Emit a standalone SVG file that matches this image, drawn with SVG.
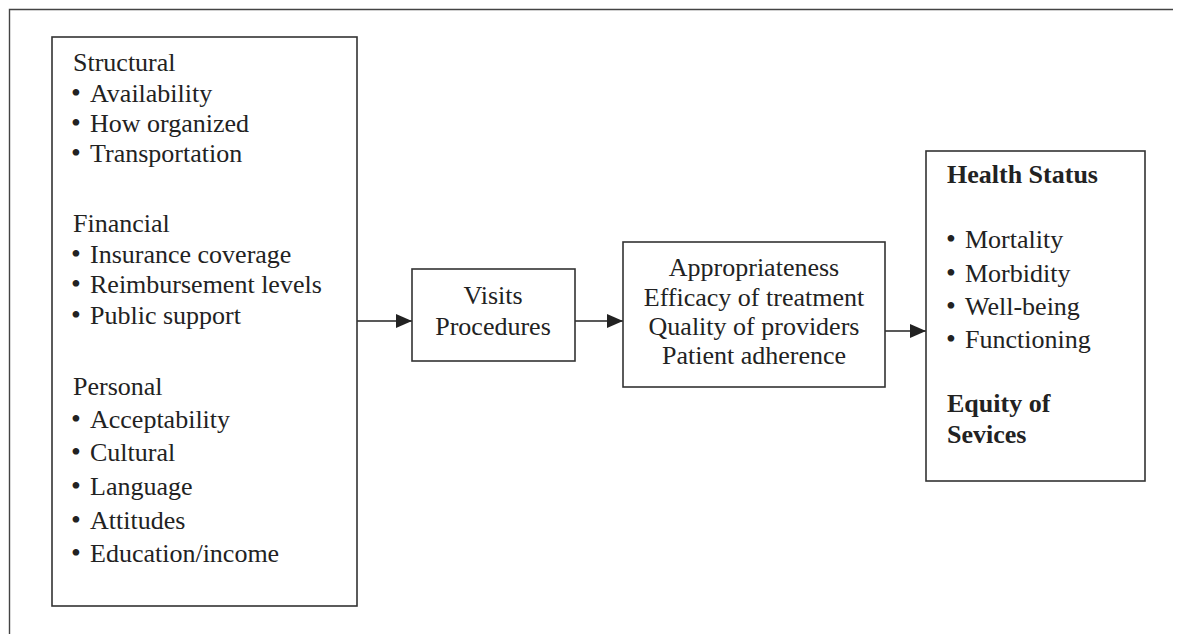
<svg xmlns="http://www.w3.org/2000/svg" width="1182" height="634" viewBox="0 0 1182 634">
<defs>
<style>
.box{fill:#fff;stroke:#333;stroke-width:1.6}
.frame{fill:none;stroke:#444;stroke-width:1.4}
.t{font-family:"Liberation Serif","Times New Roman",serif;font-size:26px;fill:#222}
.bu{font-size:28px}
.c{text-anchor:middle}
.b{font-weight:bold}
.conn{stroke:#222;stroke-width:1.5;fill:none}
</style>
<marker id="ah" markerWidth="16" markerHeight="14" refX="16" refY="7" orient="auto" markerUnits="userSpaceOnUse">
<path d="M0,0 L16,7 L0,14 Z" fill="#222"/>
</marker>
</defs>
<rect width="1182" height="634" fill="#fff"/>
<path class="frame" d="M9.5,634 L9.5,9.5 L1173,9.5"/>
<g id="connectors">
<line class="conn" x1="357" y1="321" x2="412" y2="321" marker-end="url(#ah)"/>
<line class="conn" x1="575" y1="321" x2="623" y2="321" marker-end="url(#ah)"/>
<line class="conn" x1="885" y1="331" x2="926" y2="331" marker-end="url(#ah)"/>
</g>
<g id="access">
<rect class="box" x="52" y="37" width="305" height="569"/>
<text class="t" x="73" y="71">Structural</text>
<text class="t" y="102"><tspan class="bu" x="71">•</tspan><tspan x="90">Availability</tspan></text>
<text class="t" y="132"><tspan class="bu" x="71">•</tspan><tspan x="90">How organized</tspan></text>
<text class="t" y="162"><tspan class="bu" x="71">•</tspan><tspan x="90">Transportation</tspan></text>
<text class="t" x="73" y="232">Financial</text>
<text class="t" y="263"><tspan class="bu" x="71">•</tspan><tspan x="90">Insurance coverage</tspan></text>
<text class="t" y="293"><tspan class="bu" x="71">•</tspan><tspan x="90">Reimbursement levels</tspan></text>
<text class="t" y="324"><tspan class="bu" x="71">•</tspan><tspan x="90">Public support</tspan></text>
<text class="t" x="73" y="395">Personal</text>
<text class="t" y="428"><tspan class="bu" x="71">•</tspan><tspan x="90">Acceptability</tspan></text>
<text class="t" y="461"><tspan class="bu" x="71">•</tspan><tspan x="90">Cultural</tspan></text>
<text class="t" y="495"><tspan class="bu" x="71">•</tspan><tspan x="90">Language</tspan></text>
<text class="t" y="529"><tspan class="bu" x="71">•</tspan><tspan x="90">Attitudes</tspan></text>
<text class="t" y="562"><tspan class="bu" x="71">•</tspan><tspan x="90">Education/income</tspan></text>
</g>
<g id="utilization">
<rect class="box" x="412" y="269" width="163" height="92"/>
<text class="t c" x="493" y="304">Visits</text>
<text class="t c" x="493" y="335">Procedures</text>
</g>
<g id="efficacy">
<rect class="box" x="623" y="242" width="262" height="145"/>
<text class="t c" x="754" y="276">Appropriateness</text>
<text class="t c" x="754" y="306">Efficacy of treatment</text>
<text class="t c" x="754" y="335">Quality of providers</text>
<text class="t c" x="754" y="364">Patient adherence</text>
</g>
<g id="outcomes">
<rect class="box" x="926" y="151" width="219" height="330"/>
<text class="t b" x="947" y="183">Health Status</text>
<text class="t" y="248"><tspan class="bu" x="946">•</tspan><tspan x="965">Mortality</tspan></text>
<text class="t" y="282"><tspan class="bu" x="946">•</tspan><tspan x="965">Morbidity</tspan></text>
<text class="t" y="315"><tspan class="bu" x="946">•</tspan><tspan x="965">Well-being</tspan></text>
<text class="t" y="348"><tspan class="bu" x="946">•</tspan><tspan x="965">Functioning</tspan></text>
<text class="t b" x="947" y="412">Equity of</text>
<text class="t b" x="947" y="443">Sevices</text>
</g>
</svg>
